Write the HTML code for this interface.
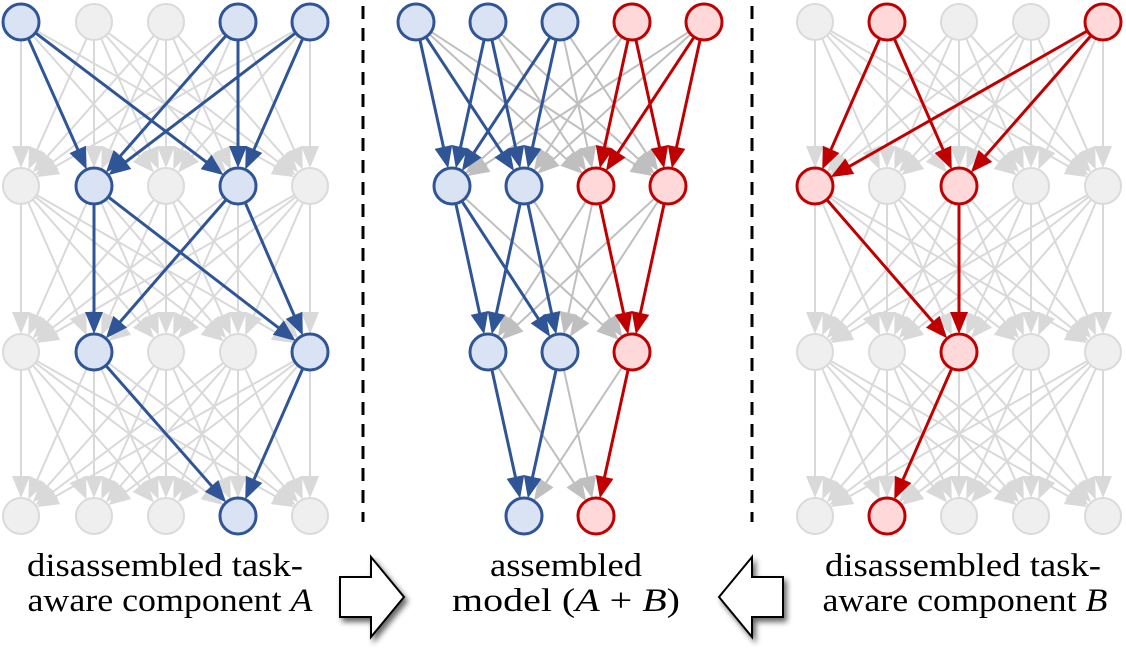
<!DOCTYPE html>
<html><head><meta charset="utf-8">
<style>
html,body{margin:0;padding:0;background:#fff;}
svg{display:block;}
text{font-family:"Liberation Serif","Times New Roman",serif;fill:#000;}
</style></head>
<body>
<svg id="fig" width="1126" height="649" viewBox="0 0 1126 649" xmlns="http://www.w3.org/2000/svg">
<defs>
<filter id="sh" x="-30%" y="-30%" width="160%" height="160%">
<feGaussianBlur in="SourceAlpha" stdDeviation="3"/>
<feOffset dx="3" dy="4" result="b"/>
<feComponentTransfer><feFuncA type="linear" slope="0.6"/></feComponentTransfer>
<feMerge><feMergeNode/><feMergeNode in="SourceGraphic"/></feMerge>
</filter>
</defs>
<g id="layers"></g>
<line x1="363" y1="6" x2="363" y2="522" stroke="#000" stroke-width="3" stroke-dasharray="13,9"/>
<line x1="752" y1="6" x2="752" y2="522" stroke="#000" stroke-width="3" stroke-dasharray="13,9"/>
<path filter="url(#sh)" d="M340,577 L371,577 L371,557 L404,597 L371,637 L371,617 L340,617 Z" fill="#fff" stroke="#000" stroke-width="2"/>
<path filter="url(#sh)" d="M783,577 L752,577 L752,557 L719,597 L752,637 L752,617 L783,617 Z" fill="#fff" stroke="#000" stroke-width="2"/>
<g font-size="33">
<text x="165" y="576" text-anchor="middle" textLength="276" lengthAdjust="spacingAndGlyphs">disassembled task-</text>
<text x="170" y="611" text-anchor="middle" textLength="285" lengthAdjust="spacingAndGlyphs">aware component <tspan font-style="italic">A</tspan></text>
</g>
<g font-size="33">
<text x="566" y="576" text-anchor="middle" textLength="152" lengthAdjust="spacingAndGlyphs">assembled</text>
<text x="566" y="611" text-anchor="middle" textLength="228" lengthAdjust="spacingAndGlyphs">model (<tspan font-style="italic">A</tspan> + <tspan font-style="italic">B</tspan>)</text>
</g>
<g font-size="33">
<text x="963" y="576" text-anchor="middle" textLength="276" lengthAdjust="spacingAndGlyphs">disassembled task-</text>
<text x="965" y="611" text-anchor="middle" textLength="285" lengthAdjust="spacingAndGlyphs">aware component <tspan font-style="italic">B</tspan></text>
</g>
</svg>
<script>
var rowY = [22, 186, 352, 516];
var leftCols = [21, 94, 166, 238, 310];
var rightCols = [815, 887, 959, 1031, 1103];
var midCols = [[416, 488, 560, 632, 704], [452, 524, 596, 668], [488, 560, 632], [524, 596]];
var midColor = [['b','b','b','r','r'], ['b','b','r','r'], ['b','b','r'], ['b','r']];
// highlighted nodes per layer
var leftActive = [[0,3,4],[1,3],[1,4],[3]];
var rightActive = [[1,4],[0,2],[2],[1]];
// highlighted edges: [layer, from, to]
var leftEdges = [[0,0,1],[0,0,3],[0,3,1],[0,3,3],[0,4,1],[0,4,3],[1,1,1],[1,1,4],[1,3,1],[1,3,4],[2,1,3],[2,4,3]];
var rightEdges = [[0,1,0],[0,1,2],[0,4,0],[0,4,2],[1,0,2],[1,2,2],[2,2,1]];
var midEdges = [[0,0,0],[0,0,1],[0,1,0],[0,1,1],[0,2,0],[0,2,1],[0,3,2],[0,3,3],[0,4,2],[0,4,3],
  [1,0,0],[1,0,1],[1,1,0],[1,1,1],[1,2,2],[1,3,2],[2,0,0],[2,1,0],[2,2,1]];

var NS = 'http://www.w3.org/2000/svg';
var root = document.getElementById('layers');
var R = 18;
var COL = {b:{s:'#2f5597',f:'#dae3f3'}, r:{s:'#c00000',f:'#ffd9d9'}, g:{s:'#dadada',f:'#efefef'}};
function mk(tag, attrs, parent){ var e=document.createElementNS(NS,tag); for(var k in attrs) e.setAttribute(k,attrs[k]); (parent||root).appendChild(e); return e; }
function edge(x1,y1,x2,y2,color,w,g,name){
  var dx=x2-x1, dy=y2-y1, L=Math.sqrt(dx*dx+dy*dy), ux=dx/L, uy=dy/L;
  var sx=x1+ux*R, sy=y1+uy*R, tx=x2-ux*R, ty=y2-uy*R;
  var AL=22, AW=9, bx=tx-ux*AL, by=ty-uy*AL;
  var l = mk('line',{x1:sx,y1:sy,x2:bx+ux*2,y2:by+uy*2,stroke:color,'stroke-width':w},g);
  
  
  var p = mk('polygon',{points:tx+','+ty+' '+(bx-uy*AW)+','+(by+ux*AW)+' '+(bx+uy*AW)+','+(by-ux*AW),fill:color},g);
  
  
}
function node(x,y,c,g,name){
  var n = mk('circle',{cx:x,cy:y,r:R,fill:COL[c].f,stroke:COL[c].s,'stroke-width':c==='g'?2:3},g);
  
  
}
function has(list,l,a,b){ for(var i=0;i<list.length;i++){ if(list[i][0]===l&&list[i][1]===a&&list[i][2]===b) return true;} return false; }

function sidePanel(cols, active, edges, color, pname){
  var g = mk('g',{});  
  var gg = mk('g',{},g), gc = mk('g',{},g), gn = mk('g',{},g);
  for (var l=0;l<3;l++) for (var a=0;a<cols.length;a++) for (var b=0;b<cols.length;b++){
    if (has(edges,l,a,b)) continue;
    edge(cols[a],rowY[l],cols[b],rowY[l+1],'#d9d9d9',2,gg,'gray-edge');
  }
  edges.forEach(function(e){ edge(cols[e[1]],rowY[e[0]],cols[e[2]],rowY[e[0]+1],COL[color].s,3,gc,'highlight-edge'); });
  for (var l2=0;l2<4;l2++) for (var i=0;i<cols.length;i++){
    var on = active[l2].indexOf(i)>=0;
    node(cols[i],rowY[l2],on?color:'g',gn, on?'active-neuron':'inactive-neuron');
  }
}
sidePanel(leftCols, leftActive, leftEdges, 'b', 'component-a-network');
sidePanel(rightCols, rightActive, rightEdges, 'r', 'component-b-network');

(function(){
  var g = mk('g',{});  
  var gg = mk('g',{},g), gc = mk('g',{},g), gn = mk('g',{},g);
  for (var l=0;l<3;l++) for (var a=0;a<midCols[l].length;a++) for (var b=0;b<midCols[l+1].length;b++){
    if (has(midEdges,l,a,b)) continue;
    edge(midCols[l][a],rowY[l],midCols[l+1][b],rowY[l+1],'#bfbfbf',2,gg,'gray-edge');
  }
  midEdges.forEach(function(e){
    var c = midColor[e[0]][e[1]];
    edge(midCols[e[0]][e[1]],rowY[e[0]],midCols[e[0]+1][e[2]],rowY[e[0]+1],COL[c].s,3,gc,'highlight-edge');
  });
  for (var l2=0;l2<4;l2++) for (var i=0;i<midCols[l2].length;i++){
    node(midCols[l2][i],rowY[l2],midColor[l2][i],gn, midColor[l2][i]==='b'?'neuron-a':'neuron-b');
  }
})();
</script>
</body></html>
